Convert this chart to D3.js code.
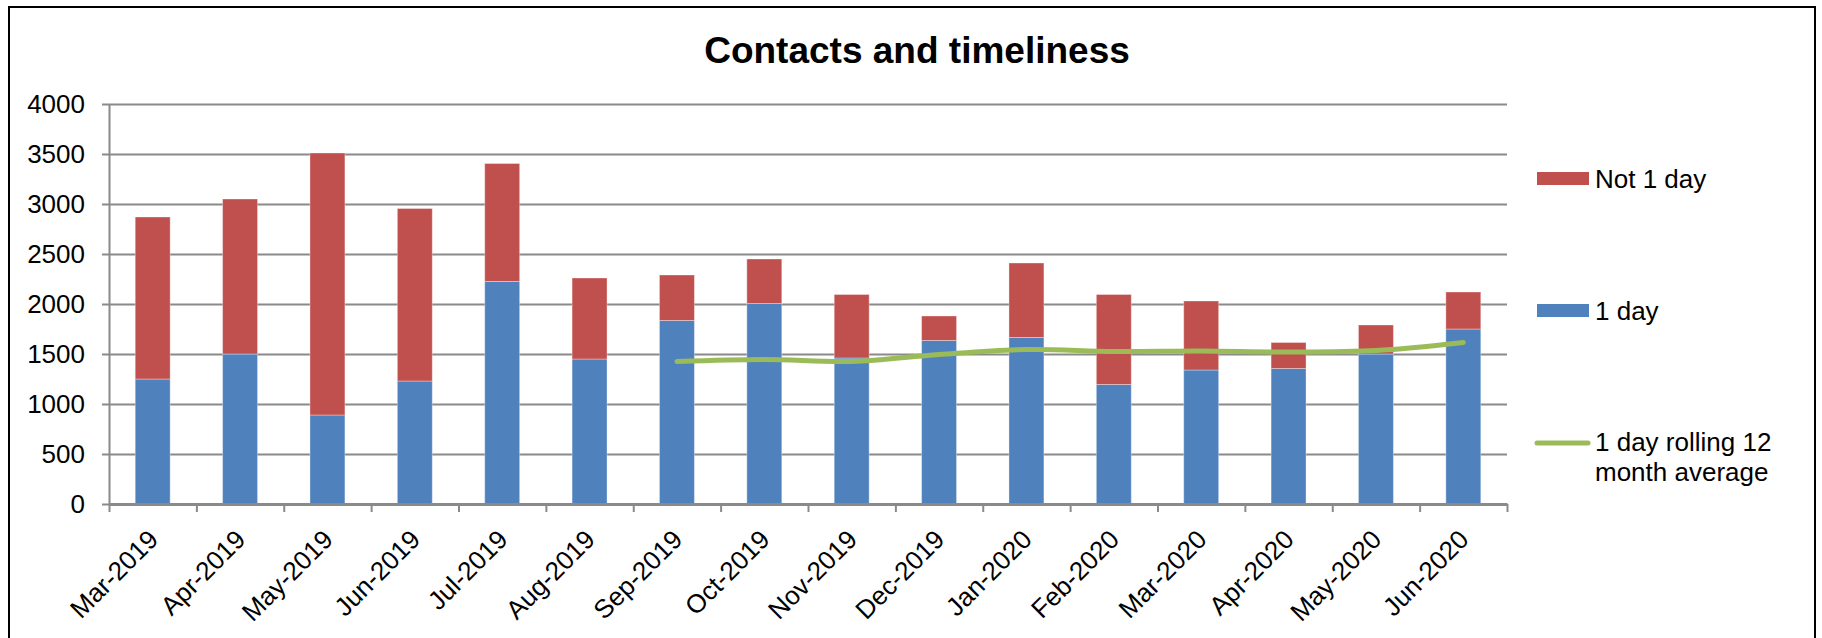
<!DOCTYPE html>
<html>
<head>
<meta charset="utf-8">
<script src="https://cdn.jsdelivr.net/npm/d3@7"></script>
<style>
  body { margin: 0; background: #fff; }
  svg { display: block; }
  text { font-family: "Liberation Sans", Arial, Helvetica, sans-serif; fill: #000; }
</style>
</head>
<body>
<svg id="chart" width="1822" height="638"></svg>
<script>
// Monthly contacts, split by whether they were handled within 1 day
const months = ["Mar-2019","Apr-2019","May-2019","Jun-2019","Jul-2019","Aug-2019","Sep-2019","Oct-2019",
                "Nov-2019","Dec-2019","Jan-2020","Feb-2020","Mar-2020","Apr-2020","May-2020","Jun-2020"];
const oneDay    = [1250,1500, 890,1230,2225,1450,1835,2005,1460,1635,1665,1195,1340,1355,1500,1750];
const notOneDay = [1620,1550,2620,1725,1180, 810, 455, 445, 635, 245, 745, 900, 690, 260, 290, 370];
// Rolling 12 month average of the 1 day count (only available from Sep-2019)
const rollingAvg = [null,null,null,null,null,null,1425,1445,1425,1495,1545,1525,1530,1520,1535,1615];
const yTicks = [0,500,1000,1500,2000,2500,3000,3500,4000];
const seriesLabels = { notOneDay: "Not 1 day", oneDay: "1 day", rolling: ["1 day rolling 12", "month average"] };
const titleText = "Contacts and timeliness";

const colors = { oneDay: "#4F81BD", notOneDay: "#C0504D", rolling: "#9BBB59", grid: "#8A8A8A" };
const labelSize = "26px";

const svg = d3.select("#chart");
const plot = { left: 109, right: 1507, top: 104, bottom: 504 };

// Outer frame
svg.append("rect")
  .attr("x", 9).attr("y", 7).attr("width", 1806).attr("height", 700)
  .attr("fill", "none").attr("stroke", "#000").attr("stroke-width", 2);

// Title
svg.append("text")
  .attr("x", 917).attr("y", 63)
  .attr("text-anchor", "middle")
  .style("font-size", "37px").style("font-weight", "bold")
  .text(titleText);

const x = d3.scaleBand().domain(months).range([plot.left, plot.right])
  .paddingInner(0.6).paddingOuter(0.3);
const xEdges = d3.scaleLinear().domain([0, months.length]).range([plot.left, plot.right]);
const y = d3.scaleLinear().domain([0, 4000]).range([plot.bottom, plot.top]);

// Horizontal gridlines
const grid = svg.append("g")
  .attr("transform", `translate(${plot.left},0)`)
  .call(d3.axisLeft(y).tickValues(yTicks.filter(v => v > 0)).tickSize(-(plot.right - plot.left)).tickFormat(""));
grid.select(".domain").remove();
grid.selectAll(".tick line").attr("stroke", colors.grid).attr("stroke-width", 2);

// Stacked bars
const table = months.map((m, i) => ({ month: m, oneDay: oneDay[i], notOneDay: notOneDay[i] }));
const stacked = d3.stack().keys(["oneDay", "notOneDay"])(table);

svg.append("g").selectAll("g")
  .data(stacked).join("g")
  .attr("fill", d => colors[d.key])
  .selectAll("rect")
  .data(d => d).join("rect")
  .attr("x", d => x(d.data.month))
  .attr("width", x.bandwidth())
  .attr("y", d => y(d[1]))
  .attr("height", d => y(d[0]) - y(d[1]))
  .attr("stroke", "rgba(255,255,255,0.35)")
  .attr("stroke-width", 1);

// Y axis
const yAxis = svg.append("g")
  .attr("transform", `translate(${plot.left},0)`)
  .call(d3.axisLeft(y).tickValues(yTicks).tickSizeInner(7).tickSizeOuter(0).tickPadding(17).tickFormat(d3.format("d")));
yAxis.select(".domain").attr("stroke", colors.grid).attr("stroke-width", 2);
yAxis.selectAll(".tick line").attr("stroke", colors.grid).attr("stroke-width", 2);
yAxis.selectAll(".tick text")
  .style("font-size", labelSize)
  .style("font-family", "'Liberation Sans', Arial, sans-serif")
  .attr("fill", "#000");

// X axis with ticks between categories
const xAxis = svg.append("g")
  .attr("transform", `translate(0,${plot.bottom})`)
  .call(d3.axisBottom(xEdges).tickValues(d3.range(months.length + 1)).tickSizeInner(8).tickSizeOuter(0).tickFormat(""));
xAxis.select(".domain").attr("stroke", colors.grid).attr("stroke-width", 3);
xAxis.selectAll(".tick line").attr("stroke", colors.grid).attr("stroke-width", 2);

// Rotated month labels
svg.append("g").selectAll("text")
  .data(months).join("text")
  .attr("text-anchor", "end")
  .attr("transform", m => `translate(${x(m) + x.bandwidth() / 2 + 7},541) rotate(-45)`)
  .style("font-size", labelSize)
  .text(m => m);

// Rolling average line
const line = d3.line()
  .defined(d => d != null)
  .x((d, i) => x(months[i]) + x.bandwidth() / 2)
  .y(d => y(d))
  .curve(d3.curveCatmullRom);
svg.append("path")
  .datum(rollingAvg)
  .attr("d", line)
  .attr("fill", "none")
  .attr("stroke", colors.rolling)
  .attr("stroke-width", 5)
  .attr("stroke-linecap", "round")
  .attr("stroke-linejoin", "round");

// Legend
const legend = svg.append("g");
legend.append("rect").attr("x", 1537).attr("y", 172).attr("width", 52).attr("height", 13).attr("fill", colors.notOneDay);
legend.append("text").attr("x", 1595).attr("y", 188).style("font-size", labelSize).text(seriesLabels.notOneDay);
legend.append("rect").attr("x", 1537).attr("y", 304).attr("width", 52).attr("height", 13).attr("fill", colors.oneDay);
legend.append("text").attr("x", 1595).attr("y", 320).style("font-size", labelSize).text(seriesLabels.oneDay);
legend.append("line").attr("x1", 1537).attr("x2", 1588).attr("y1", 443).attr("y2", 443)
  .attr("stroke", colors.rolling).attr("stroke-width", 5).attr("stroke-linecap", "round");
const lt = legend.append("text").attr("x", 1595).attr("y", 451).style("font-size", labelSize);
lt.selectAll("tspan").data(seriesLabels.rolling).join("tspan")
  .attr("x", 1595).attr("dy", (d, i) => i === 0 ? 0 : 30).text(d => d);
</script>
</body>
</html>
